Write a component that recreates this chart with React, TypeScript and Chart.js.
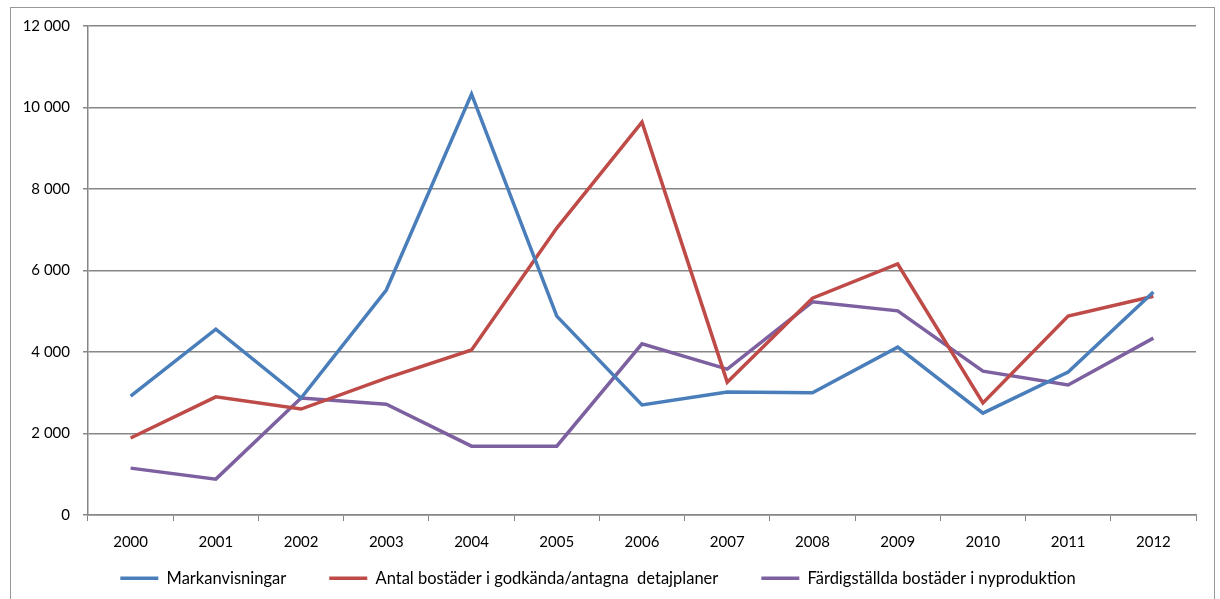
import React, { useEffect, useRef } from "react";
import { Chart, registerables } from "chart.js";

Chart.register(...registerables);

const years = ["2000", "2001", "2002", "2003", "2004", "2005", "2006", "2007", "2008", "2009", "2010", "2011", "2012"];
const markanvisningar = [2920, 4560, 2870, 5520, 10330, 4880, 2700, 3020, 3000, 4120, 2500, 3510, 5470];
const detaljplaner = [1890, 2900, 2600, 3360, 4050, 7040, 9640, 3260, 5320, 6160, 2750, 4880, 5370];
const fardigstallda = [1150, 880, 2870, 2720, 1690, 1690, 4200, 3580, 5230, 5010, 3530, 3190, 4340];
const seriesNames = [
  "Markanvisningar",
  "Antal bostäder i godkända/antagna  detajplaner",
  "Färdigställda bostäder i nyproduktion",
];
const yTicks = [0, 2000, 4000, 6000, 8000, 10000, 12000];

const FONT = "Lato, 'Open Sans', sans-serif";
const LEGEND_PAD = 43;

function fmt(v: number): string {
  const s = String(Math.round(v));
  return s.replace(/\B(?=(\d{3})+(?!\d))/g, " ");
}

// Keep wide horizontal spacing between legend items without a tall legend box
const compactLegend = {
  id: "compactLegend",
  afterInit(chart: any) {
    const lg = chart.legend;
    if (!lg) return;
    const origFit = lg.fit;
    lg.fit = function () {
      origFit.call(this);
      this.height = 34;
    };
    const origDraw = lg.draw;
    lg.draw = function (ca: any) {
      const t = this.top;
      this.top = t - (LEGEND_PAD - 9);
      origDraw.call(this, ca);
      this.top = t;
    };
  },
};

export default function App() {
  const ref = useRef<HTMLCanvasElement | null>(null);
  useEffect(() => {
    if (!ref.current) return;
    const colors = ["#4A7EBB", "#BE4B48", "#7D60A0"];
    const data = [markanvisningar, detaljplaner, fardigstallda];
    const chart = new Chart(ref.current, {
      type: "line",
      plugins: [compactLegend],
      data: {
        labels: years,
        datasets: data.map((d, i) => ({
          label: seriesNames[i],
          data: d,
          borderColor: colors[i],
          backgroundColor: colors[i],
          borderWidth: 3.5,
          pointRadius: 0,
          pointHoverRadius: 0,
          tension: 0,
          fill: false,
          pointStyle: "line" as const,
        })),
      },
      options: {
        animation: false,
        responsive: false,
        maintainAspectRatio: false,
        devicePixelRatio: 1,
        layout: { padding: { left: 0, right: 24, top: 26, bottom: 4 } },
        plugins: {
          tooltip: { enabled: false },
          legend: {
            position: "bottom",
            labels: {
              usePointStyle: true,
              pointStyle: "line",
              pointStyleWidth: 38,
              boxHeight: 14,
              padding: LEGEND_PAD,
              color: "#000",
              font: { family: FONT, size: 16.5 },
            },
          },
        },
        scales: {
          x: {
            offset: true,
            grid: {
              offset: true,
              drawOnChartArea: false,
              drawTicks: true,
              tickLength: 6,
              color: "#868686",
            },
            border: { color: "#868686", width: 1.5 },
            ticks: {
              color: "#000",
              font: { family: FONT, size: 15 },
              padding: 12,
              maxRotation: 0,
            },
            afterFit: (s: any) => {
              s.height = 46;
            },
          },
          y: {
            min: 0,
            max: 12000,
            afterBuildTicks: (s: any) => {
              s.ticks = yTicks.map((v) => ({ value: v }));
            },
            grid: {
              color: "#868686",
              lineWidth: 1.5,
              tickLength: 5,
              drawTicks: true,
            },
            border: { color: "#868686", width: 1.5 },
            ticks: {
              color: "#000",
              font: { family: FONT, size: 15 },
              padding: 13,
              callback: (v: any) => fmt(Number(v)),
            },
            afterFit: (s: any) => {
              s.width = 88;
            },
          },
        },
      },
    });
    return () => chart.destroy();
  }, []);
  return (
    <div style={{ position: "fixed", left: 0, top: 0, width: 1220, height: 599, background: "#fff" }}>
      <div
        style={{
          position: "absolute",
          left: 10,
          top: 7,
          width: 1205,
          height: 600,
          border: "1px solid #999",
          boxSizing: "border-box",
        }}
      />
      <canvas ref={ref} width={1220} height={599} style={{ position: "absolute", left: 0, top: 0 }} />
    </div>
  );
}
